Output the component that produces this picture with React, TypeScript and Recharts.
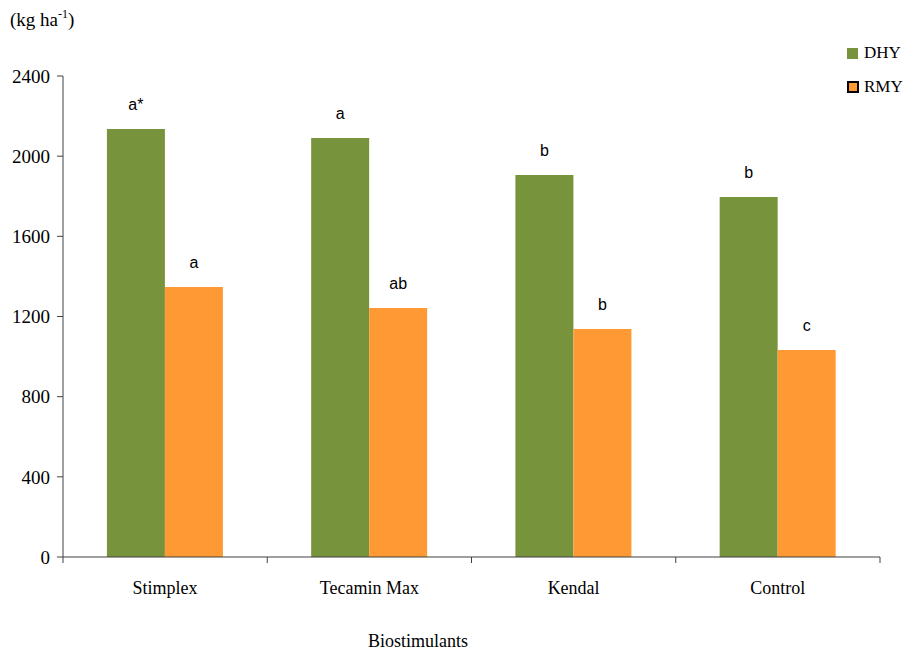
import React from 'react'
import { BarChart, Bar, XAxis, YAxis, LabelList, Label } from 'recharts'

const categories = ['Stimplex', 'Tecamin Max', 'Kendal', 'Control']
const dhy = [2136, 2091, 1906, 1796]
const rmy = [1347, 1242, 1138, 1033]
const dhyLetters = ['a*', 'a', 'b', 'b']
const rmyLetters = ['a', 'ab', 'b', 'c']
const yTicks = [0, 400, 800, 1200, 1600, 2000, 2400]

const data = categories.map((name, i) => ({
  name,
  DHY: dhy[i],
  RMY: rmy[i],
  dhyLetter: dhyLetters[i],
  rmyLetter: rmyLetters[i],
}))

const GREEN = '#77933C'
const ORANGE = '#FF9933'
const AXIS = '#404040'
const SERIF = '"Liberation Serif", "Times New Roman", serif'
const SANS = '"Liberation Sans", Arial, sans-serif'

const W = 910
const H = 653
const MARGIN = { top: 76, right: 30, bottom: 66, left: 0 }
const Y_WIDTH = 63
const BAND = (W - MARGIN.left - MARGIN.right - Y_WIDTH) / categories.length

const CategoryTick = (props: any) => {
  const { x, y, payload, index } = props
  const left = x - BAND / 2
  return (
    <g>
      <line x1={left} x2={left} y1={y - 8} y2={y - 2} stroke={AXIS} />
      {index === categories.length - 1 && (
        <line x1={x + BAND / 2} x2={x + BAND / 2} y1={y - 8} y2={y - 2} stroke={AXIS} />
      )}
      <text x={x} y={y + 29} textAnchor="middle" fontFamily={SERIF} fontSize={18} fill="#000">
        {payload.value}
      </text>
    </g>
  )
}

const letterLabel = (props: any) => {
  const { x, y, width, value } = props
  return (
    <text x={x + width / 2} y={y - 19} textAnchor="middle" fontFamily={SANS} fontSize={16} fill="#000">
      {value}
    </text>
  )
}

const LegendBox = () => (
  <div
    style={{
      position: 'absolute',
      left: 847,
      top: 43,
      fontFamily: SERIF,
      fontSize: 17,
      color: '#000',
      lineHeight: '20px',
    }}
  >
    <div style={{ display: 'flex', alignItems: 'center', marginBottom: 14 }}>
      <span style={{ width: 11, height: 11, background: GREEN, display: 'inline-block', marginRight: 6 }} />
      DHY
    </div>
    <div style={{ display: 'flex', alignItems: 'center' }}>
      <span
        style={{
          width: 8,
          height: 8,
          background: ORANGE,
          border: '2px solid #000',
          display: 'inline-block',
          marginRight: 5,
        }}
      />
      RMY
    </div>
  </div>
)

export default function App() {
  return (
    <div style={{ position: 'absolute', left: 0, top: 0, width: W, height: H, background: '#fff' }}>
      <BarChart width={W} height={H} data={data} margin={MARGIN} barCategoryGap="21.5%" barGap={0}>
        <XAxis
          dataKey="name"
          stroke={AXIS}
          tickLine={false}
          tick={<CategoryTick />}
          interval={0}
          height={30}
        >
          <Label
            content={() => (
              <text x={418} y={647} textAnchor="middle" fontFamily={SERIF} fontSize={18} fill="#000">
                Biostimulants
              </text>
            )}
          />
        </XAxis>
        <YAxis
          width={Y_WIDTH}
          domain={[0, 2400]}
          ticks={yTicks}
          interval={0}
          stroke={AXIS}
          tickSize={6}
          tickMargin={7}
          tick={{ fontFamily: SERIF, fontSize: 19, fill: '#000' }}
        >
          <Label
            content={() => (
              <text x={10} y={26} fontFamily={SERIF} fontSize={19} fill="#000">
                (kg ha
                <tspan fontSize={12} dy={-8}>-1</tspan>
                <tspan dy={8}>)</tspan>
              </text>
            )}
          />
        </YAxis>
        <Bar dataKey="DHY" fill={GREEN} isAnimationActive={false}>
          <LabelList dataKey="dhyLetter" content={letterLabel} />
        </Bar>
        <Bar dataKey="RMY" fill={ORANGE} isAnimationActive={false}>
          <LabelList dataKey="rmyLetter" content={letterLabel} />
        </Bar>
      </BarChart>
      <LegendBox />
    </div>
  )
}
